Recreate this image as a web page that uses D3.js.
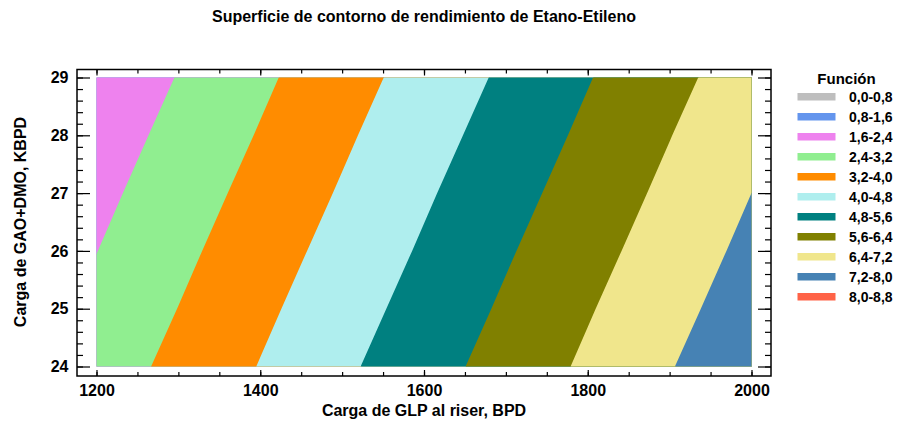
<!DOCTYPE html>
<html>
  <head>
    <meta charset="utf-8">
    <title>Superficie de contorno de rendimiento de Etano-Etileno</title>
    <script src="https://d3js.org/d3.v7.min.js"></script>
    <style>
      body { margin: 0; background: #fff; }
      text { font-family: "Liberation Sans", Arial, sans-serif; font-weight: bold; fill: #000; }
      .tick line { stroke: #000; stroke-width: 1.2; }
    </style>
  </head>
  <body>
    <svg id="chart" width="906" height="423"></svg>
    <script>
      // data: surface values on a coarse grid
      xValues = [1200, 1300, 1400, 1500, 1600, 1700, 1800, 1900, 2000];
      yValues = [24, 25, 26, 27, 28, 29];
      zValues = [
        [2.78, 3.41, 4.03, 4.66, 5.28, 5.91, 6.53, 7.16, 7.78], // 24
        [2.59, 3.21, 3.84, 4.46, 5.09, 5.71, 6.34, 6.96, 7.59], // 25
        [2.39, 3.02, 3.64, 4.27, 4.89, 5.52, 6.14, 6.77, 7.39], // 26
        [2.20, 2.82, 3.45, 4.07, 4.70, 5.32, 5.95, 6.57, 7.20], // 27
        [2.00, 2.63, 3.25, 3.88, 4.50, 5.13, 5.75, 6.38, 7.00], // 28
        [1.81, 2.43, 3.06, 3.68, 4.31, 4.93, 5.56, 6.18, 6.81]  // 29
      ];
      levels = [0, 0.8, 1.6, 2.4, 3.2, 4.0, 4.8, 5.6, 6.4, 7.2, 8.0];
      levelLabels = ["0,0-0,8", "0,8-1,6", "1,6-2,4", "2,4-3,2", "3,2-4,0", "4,0-4,8",
                     "4,8-5,6", "5,6-6,4", "6,4-7,2", "7,2-8,0", "8,0-8,8"];
      xTicks = [1200, 1400, 1600, 1800, 2000];
      yTicks = [24, 25, 26, 27, 28, 29];
      // colours
      palette = ["#bebebe", "#6495ed", "#ee82ee", "#90ee90", "#ff8c00", "#afeeee",
                 "#008080", "#808000", "#f0e68c", "#4682b4", "#ff6347"];

      chart = d3.select("#chart");
      // frame and plot area
      frame = { left: 77, right: 771, top: 69.5, bottom: 376 };
      x = d3.scaleLinear().domain([1200, 2000]).range([96.5, 751.5]);
      y = d3.scaleLinear().domain([24, 29]).range([366.5, 77.5]);

      // grid index -> data value (d3.contours puts cell i at i + 0.5)
      gx = d3.scaleLinear().domain([0.5, xValues.length - 0.5]).range(d3.extent(xValues));
      gy = d3.scaleLinear().domain([0.5, yValues.length - 0.5]).range(d3.extent(yValues));
      projection = d3.geoTransform({
        point: function(px, py) { this.stream.point(x(gx(px)), y(gy(py))); }
      });
      path = d3.geoPath(projection);

      contours = d3.contours()
        .size([xValues.length, yValues.length])
        .thresholds(levels)(zValues.flat());

      chart.append("clipPath").attr("id", "plotClip")
        .append("rect")
          .attr("x", x(1200)).attr("y", y(29))
          .attr("width", x(2000) - x(1200))
          .attr("height", y(24) - y(29));

      chart.append("g")
          .attr("clip-path", "url(#plotClip)")
        .selectAll("path")
          .data(contours)
        .enter().append("path")
          .attr("d", path)
          .attr("fill", function(d, i) { return palette[i]; });

      // axes, ticks pointing inwards
      function drawAxis(axis, transform, labels) {
        var g = chart.append("g").attr("transform", transform).call(axis);
        g.select(".domain").remove();
        if (!labels) g.selectAll("text").remove();
        return g;
      }
      xMinor = d3.range(1200, 2001, 50);
      yMinor = d3.range(24, 29.001, 0.2);
      drawAxis(d3.axisBottom(x).tickValues(xMinor).tickSize(-4).tickFormat(""), "translate(0," + frame.bottom + ")", false);
      drawAxis(d3.axisTop(x).tickValues(xMinor).tickSize(-4).tickFormat(""), "translate(0," + frame.top + ")", false);
      drawAxis(d3.axisLeft(y).tickValues(yMinor).tickSize(-6).tickFormat(""), "translate(" + frame.left + ",0)", false);
      drawAxis(d3.axisRight(y).tickValues(yMinor).tickSize(-6).tickFormat(""), "translate(" + frame.right + ",0)", false);

      xAxis = drawAxis(d3.axisBottom(x).tickValues(xTicks).tickSize(-6).tickPadding(8.5).tickFormat(d3.format("d")),
        "translate(0," + frame.bottom + ")", true);
      drawAxis(d3.axisTop(x).tickValues(xTicks).tickSize(-6), "translate(0," + frame.top + ")", false);
      yAxis = drawAxis(d3.axisLeft(y).tickValues(yTicks).tickSize(-13).tickPadding(8.5).tickFormat(d3.format("d")),
        "translate(" + frame.left + ",0)", true);
      drawAxis(d3.axisRight(y).tickValues(yTicks).tickSize(-13), "translate(" + frame.right + ",0)", false);
      chart.selectAll(".tick text")
        .style("font-size", "16px");

      chart.append("rect")
        .attr("x", frame.left).attr("y", frame.top)
        .attr("width", frame.right - frame.left)
        .attr("height", frame.bottom - frame.top)
        .attr("fill", "none")
        .attr("stroke", "#000")
        .attr("stroke-width", 1.5);

      // titles
      chart.append("text")
        .attr("x", 424).attr("y", 22)
        .attr("text-anchor", "middle")
        .style("font-size", "16px")
        .text("Superficie de contorno de rendimiento de Etano-Etileno");
      chart.append("text")
        .attr("x", 424).attr("y", 416)
        .attr("text-anchor", "middle")
        .style("font-size", "16px")
        .text("Carga de GLP al riser, BPD");
      chart.append("text")
        .attr("transform", "translate(25.5,222) rotate(-90)")
        .attr("text-anchor", "middle")
        .style("font-size", "16px")
        .text("Carga de GAO+DMO, KBPD");

      // legend
      legend = chart.append("g");
      legend.append("text")
        .attr("x", 846.5).attr("y", 84)
        .attr("text-anchor", "middle")
        .style("font-size", "15px")
        .text("Función");
      keys = legend.selectAll(".key")
          .data(levelLabels)
        .enter().append("g")
          .classed("key", true)
          .attr("transform", function(d, i) { return "translate(0," + (i * 20) + ")"; });
      keys.append("rect")
        .attr("x", 797.5).attr("y", 93)
        .attr("width", 38).attr("height", 7.5)
        .attr("fill", function(d, i) { return palette[i]; });
      keys.append("text")
        .attr("x", 849).attr("y", 102)
        .style("font-size", "14px")
        .text(function(d) { return d; });
    </script>
  </body>
</html>
